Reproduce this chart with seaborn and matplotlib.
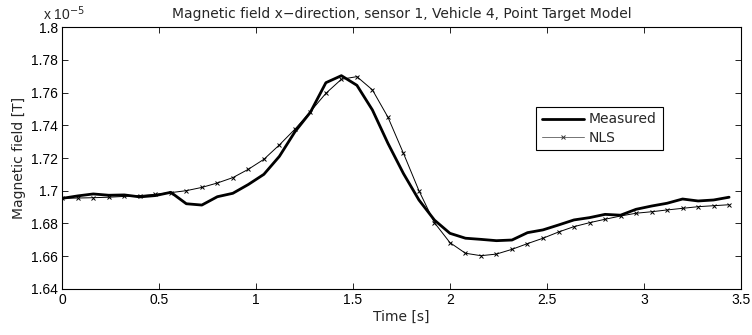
import numpy as np
import pandas as pd
import matplotlib
matplotlib.use("Agg")
import matplotlib.pyplot as plt
import seaborn as sns

# Data (magnetic field in units of 1e-5 T)
time_s = [0.00, 0.08, 0.16, 0.24, 0.32, 0.40, 0.48, 0.56, 0.64, 0.72,
          0.80, 0.88, 0.96, 1.04, 1.12, 1.20, 1.28, 1.36, 1.44, 1.52,
          1.60, 1.68, 1.76, 1.84, 1.92, 2.00, 2.08, 2.16, 2.24, 2.32,
          2.40, 2.48, 2.56, 2.64, 2.72, 2.80, 2.88, 2.96, 3.04, 3.12,
          3.20, 3.28, 3.36, 3.44]
measured = [1.6953, 1.6968, 1.6980, 1.6972, 1.6974, 1.6962, 1.6970, 1.6990, 1.6920, 1.6912,
            1.6963, 1.6984, 1.7038, 1.7100, 1.7210, 1.7360, 1.7480, 1.7661, 1.7704, 1.7645,
            1.7494, 1.7290, 1.7105, 1.6943, 1.6820, 1.6739, 1.6709, 1.6702, 1.6694, 1.6698,
            1.6743, 1.6760, 1.6790, 1.6821, 1.6835, 1.6855, 1.6850, 1.6886, 1.6906, 1.6923,
            1.6949, 1.6937, 1.6943, 1.6960]
nls = [1.6953, 1.6955, 1.6957, 1.6960, 1.6965, 1.6970, 1.6978, 1.6988, 1.7000, 1.7020,
       1.7047, 1.7080, 1.7131, 1.7192, 1.7280, 1.7376, 1.7484, 1.7596, 1.7682, 1.7698,
       1.7617, 1.7450, 1.7229, 1.7000, 1.6804, 1.6682, 1.6617, 1.6602, 1.6612, 1.6641,
       1.6676, 1.6709, 1.6747, 1.6780, 1.6804, 1.6825, 1.6845, 1.6862, 1.6871, 1.6882,
       1.6892, 1.6902, 1.6908, 1.6914]

x_ticks = [0, 0.5, 1, 1.5, 2, 2.5, 3, 3.5]
x_tick_labels = ["0", "0.5", "1", "1.5", "2", "2.5", "3", "3.5"]
y_ticks = [1.64, 1.66, 1.68, 1.70, 1.72, 1.74, 1.76, 1.78, 1.80]
y_tick_labels = ["1.64", "1.66", "1.68", "1.7", "1.72", "1.74", "1.76", "1.78", "1.8"]

df = pd.DataFrame({"Time": time_s, "Measured": measured, "NLS": nls})

sns.set_style("ticks")
plt.rcParams["font.family"] = ["Liberation Sans", "DejaVu Sans"]
wide = ["DejaVu Sans"]

fig = plt.figure(figsize=(7.52, 3.35), dpi=100)
ax = fig.add_axes([0.0828, 0.1382, 0.9022, 0.7803])

sns.lineplot(data=df, x="Time", y="Measured", ax=ax, color="black", linewidth=2.0,
             label="Measured")
sns.lineplot(data=df, x="Time", y="NLS", ax=ax, color="black", linewidth=0.7,
             marker="x", markersize=3.5, markeredgewidth=0.7,
             markeredgecolor="black", markerfacecolor="black", label="NLS")

ax.set_xlim(0, 3.5)
ax.set_ylim(1.64, 1.80)
ax.set_xticks(x_ticks)
ax.set_xticklabels(x_tick_labels)
ax.set_yticks(y_ticks)
ax.set_yticklabels(y_tick_labels)
ax.tick_params(direction="in", length=4, width=0.6, top=True, right=True,
               labelsize=10, pad=3, colors="black")
for s in ax.spines.values():
    s.set_visible(True)
    s.set_linewidth(0.8)
    s.set_color("black")

ax.set_xlabel("Time [s]", fontsize=10, labelpad=2, family=wide)
ax.set_ylabel("Magnetic field [T]", fontsize=10, labelpad=4, family=wide)
ax.set_title("Magnetic field x\u2212direction, sensor 1, Vehicle 4, Point Target Model",
             fontsize=10, pad=7, family=wide)
ax.text(-0.028, 1.015, "x 10$^{-5}$", transform=ax.transAxes, fontsize=10,
        ha="left", va="bottom")

leg = ax.legend(loc="upper right", bbox_to_anchor=(0.895, 0.722),
                prop={"family": wide, "size": 10},
                frameon=True, fancybox=False, edgecolor="black", framealpha=1,
                handlelength=3.0, borderpad=0.4, labelspacing=0.3, handletextpad=0.4)
leg.get_frame().set_linewidth(0.8)
h = leg.get_lines()[1]
h.set_color("0.45")
h.set_markeredgecolor("0.2")

fig.savefig("out.png", dpi=100)
